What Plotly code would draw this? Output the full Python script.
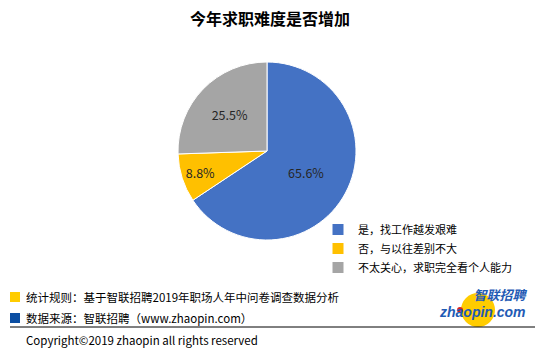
import plotly.graph_objects as go

title = "今年求职难度是否增加"
labels = ["是，找工作越发艰难", "否，与以往差别不大", "不太关心，求职完全看个人能力"]
values = [65.6, 8.8, 25.5]
colors = ["#4472C4", "#FFC000", "#A5A5A5"]
note1 = "统计规则：基于智联招聘2019年职场人年中问卷调查数据分析"
note2 = "数据来源：智联招聘（www.zhaopin.com）"
copyright_text = "Copyright©2019 zhaopin all rights reserved"
logo_cn = "智联招聘"
logo_en = "zhaopin.com"

W, H = 540, 352
FONT = "Noto Sans CJK SC, Microsoft YaHei, sans-serif"

fig = go.Figure()
fig.add_trace(go.Pie(
    labels=labels, values=values, sort=False, direction="clockwise", rotation=0,
    marker=dict(colors=colors, line=dict(color="white", width=1)),
    texttemplate="%{value:.1f}%", textposition="inside", insidetextorientation="horizontal",
    textfont=dict(size=12.5, color="#262626", family=FONT),
    domain=dict(x=[(267-89)/W, (267+89)/W], y=[(201-89)/H, (201+89)/H]),
    hoverinfo="skip",
))

def px(x): return x / W
def py(y): return 1 - y / H

shapes = [
    dict(type="rect", xref="paper", yref="paper", x0=px(10), x1=px(20), y0=py(302), y1=py(292),
         fillcolor="#FFCC00", line=dict(width=0)),
    dict(type="rect", xref="paper", yref="paper", x0=px(10), x1=px(20), y0=py(323), y1=py(313),
         fillcolor="#0B4EA2", line=dict(width=0)),
    dict(type="line", xref="paper", yref="paper", x0=px(10), x1=px(535), y0=py(327), y1=py(327),
         line=dict(color="#000000", width=1)),
    # logo yellow circle
    dict(type="circle", xref="paper", yref="paper", x0=px(461), x1=px(495), y0=py(327), y1=py(293),
         fillcolor="#FFCC00", line=dict(width=0), layer="below"),
    # logo red dot
    dict(type="circle", xref="paper", yref="paper", x0=px(457), x1=px(463), y0=py(313), y1=py(307),
         fillcolor="#D9261C", line=dict(width=0)),
]

logo_text = ("<b><i>" + logo_cn + "</i></b><br>"
             "<span style='font-family:Arial, Liberation Sans, sans-serif;font-size:14px'><b><i>"
             + logo_en + "</i></b></span>")

annotations = [
    dict(text="<b>" + title + "</b>", x=px(270), y=py(18), xref="paper", yref="paper",
         showarrow=False, font=dict(size=16, color="#000000", family=FONT), xanchor="center", yanchor="middle"),
    dict(text=note1, x=px(24), y=py(297), xref="paper", yref="paper", showarrow=False,
         font=dict(size=11.5, color="#000000", family=FONT), xanchor="left", yanchor="middle"),
    dict(text=note2, x=px(24), y=py(318), xref="paper", yref="paper", showarrow=False,
         font=dict(size=11.5, color="#000000", family=FONT), xanchor="left", yanchor="middle"),
    dict(text=copyright_text, x=px(24), y=py(340), xref="paper", yref="paper", showarrow=False,
         font=dict(size=11.5, color="#000000", family=FONT), xanchor="left", yanchor="middle"),
    dict(text=logo_text, x=px(530), y=py(302), xref="paper", yref="paper", showarrow=False, align="right",
         font=dict(size=13, color="#1F5BB5", family=FONT), xanchor="right", yanchor="middle"),
]

fig.update_layout(
    width=W, height=H, margin=dict(l=0, r=0, t=0, b=0),
    paper_bgcolor="white", plot_bgcolor="white",
    shapes=shapes, annotations=annotations,
    showlegend=True,
    legend=dict(x=px(318), y=py(215), xanchor="left", yanchor="top",
                font=dict(size=11, color="#000000", family=FONT),
                tracegroupgap=0, itemwidth=30, bgcolor="rgba(0,0,0,0)"),
    font=dict(family=FONT),
)

fig.write_html("out.html")
